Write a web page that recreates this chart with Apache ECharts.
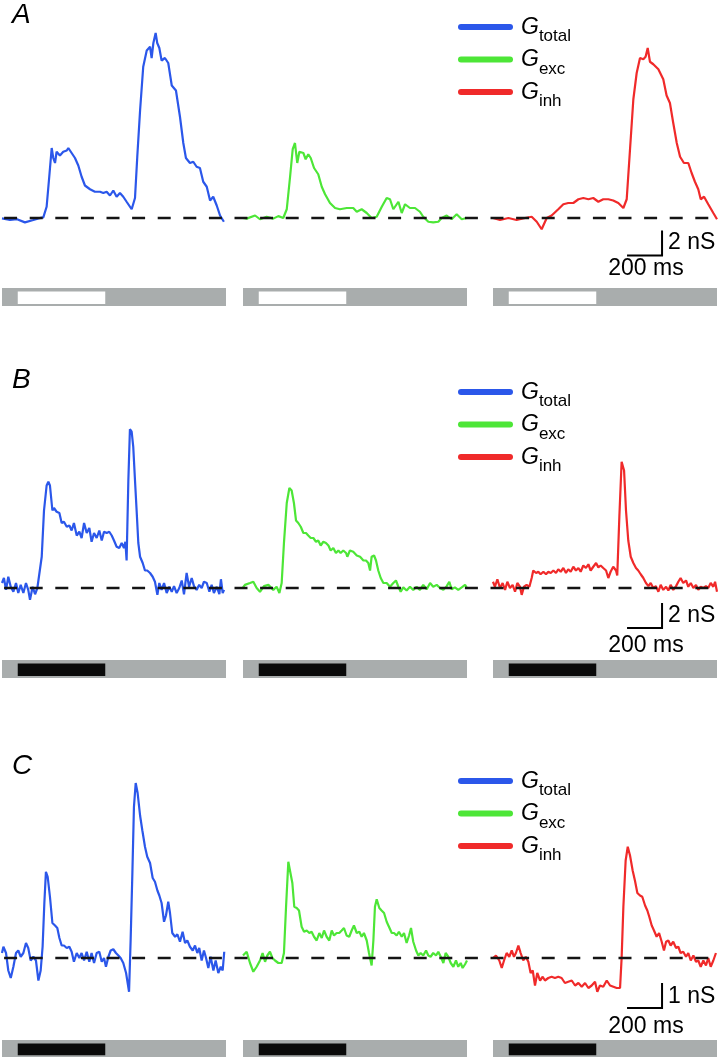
<!DOCTYPE html>
<html>
<head>
<meta charset="utf-8">
<script src="https://cdn.jsdelivr.net/npm/echarts@6/dist/echarts.min.js"></script>
<style>
  html, body { margin: 0; padding: 0; background: #fff; }
  #chart { width: 720px; height: 1058px; }
</style>
</head>
<body>
<div id="chart"></div>
<script>
// time in ms from the start of each sweep, conductance in nS
const sweepMs = 1280;
const stimOn = 90;
const stimOff = 590;
const scaleMs = 200;
const scaleNS = [2, 2, 1];
const names = ['total', 'exc', 'inh'];

const totalA = [[0,-0.03],[46,-0.16],[86,-0.1],[131,-0.35],[179,-0.16],[208,-0.03],[236,0.05],[255,0.9],[270,3.3],[284,5.6],[293,4.8],[303,4.4],[312,5.3],[331,5.0],[350,5.3],[370,5.4],[379,5.6],[398,5.2],[417,4.8],[436,4.2],[455,3.3],[474,2.6],[503,2.3],[531,2.1],[560,2.1],[579,2.0],[598,2.1],[617,1.8],[636,2.2],[655,1.7],[674,2.0],[693,1.7],[712,1.3],[741,0.7],[760,1.6],[773,4.9],[789,8.6],[807,12.1],[827,13.4],[846,13.7],[855,12.8],[865,14.0],[878,14.8],[887,14.0],[899,13.6],[912,12.6],[931,12.8],[950,12.4],[970,10.6],[994,10.2],[1017,8.1],[1036,6.0],[1051,4.8],[1074,4.4],[1093,4.5],[1112,4.1],[1131,4.0],[1150,2.9],[1170,2.5],[1189,1.4],[1207,1.7],[1227,1.0],[1246,0.2],[1268,-0.3]];
const excA = [[0,0],[21,-0.05],[69,0.2],[97,-0.1],[135,0.1],[173,-0.05],[202,0.15],[230,0],[250,0.7],[269,3.3],[284,5.5],[297,6.0],[310,4.4],[322,5.3],[345,5.2],[358,4.7],[373,5.1],[387,4.8],[406,4.0],[430,3.5],[450,2.5],[469,1.9],[497,1.2],[526,0.8],[554,0.7],[593,0.8],[630,0.8],[650,0.5],[678,0.7],[707,0.4],[735,0],[764,0.1],[793,0.9],[821,1.6],[840,1.5],[859,0.7],[888,1.3],[907,0.4],[926,1.1],[954,0.8],[983,0.8],[1011,0.5],[1030,0.1],[1059,-0.3],[1087,-0.35],[1116,-0.3],[1135,0],[1164,0.2],[1192,-0.1],[1221,0.3],[1250,-0.1],[1278,0]];
const inhA = [[0,0],[40,-0.16],[88,0],[135,-0.16],[183,0],[221,0.1],[250,-0.3],[278,-0.9],[307,0],[335,0.2],[373,0.7],[402,1.1],[430,1.2],[459,1.2],[488,1.5],[516,1.6],[545,1.5],[573,1.6],[602,1.3],[630,1.5],[659,1.5],[687,1.4],[716,1.2],[745,0.8],[764,1.5],[783,5.5],[802,9.5],[821,11.6],[840,12.8],[859,12.7],[872,12.9],[884,13.6],[897,12.5],[916,12.3],[945,11.9],[973,11.1],[992,9.8],[1011,9.2],[1030,7.6],[1050,6.0],[1069,4.9],[1091,4.4],[1116,4.4],[1135,3.6],[1154,2.9],[1173,2.3],[1187,1.5],[1206,1.7],[1230,1.1],[1259,0.4],[1280,-0.1]];

const totalB = [[0,0.4],[11,0.8],[23,-0.15],[36,0.9],[50,0.1],[65,-0.3],[80,0.4],[93,-0.4],[107,0.25],[122,-0.4],[137,0.4],[150,-0.15],[160,-0.95],[175,0.1],[189,-0.5],[202,0],[213,0.1],[227,2.5],[240,6.2],[255,8.2],[265,8.5],[274,8.2],[288,6.2],[297,6.4],[312,6.1],[328,6.0],[341,5.2],[354,5.3],[370,4.9],[385,5.0],[398,4.6],[411,5.2],[427,4.2],[442,4.5],[455,4.0],[469,5.2],[484,4.4],[499,4.8],[512,3.7],[526,4.4],[541,4.0],[556,4.6],[570,3.8],[583,4.5],[598,4.4],[613,4.5],[627,4.2],[640,3.8],[655,3.3],[670,3.2],[684,3.6],[697,3.2],[705,3.7],[712,2.2],[722,8.6],[731,12.7],[741,12.5],[750,11.3],[760,8.6],[770,6.0],[779,3.6],[789,2.5],[804,2.0],[817,1.4],[830,1.4],[846,1.2],[861,0.9],[874,0.5],[888,-0.55],[899,0.4],[912,-0.15],[926,0.4],[941,-0.4],[956,0.1],[970,-0.3],[983,0.15],[998,-0.4],[1013,0],[1027,0.6],[1040,-0.5],[1055,1.2],[1069,0.1],[1084,0.8],[1097,0.15],[1112,-0.15],[1127,0.25],[1141,0],[1154,0.5],[1170,0.4],[1185,-0.3],[1198,0.25],[1211,-0.4],[1227,0.1],[1242,-0.5],[1251,0.7],[1261,-0.4],[1269,-0.15]];
const excB = [[0,0.05],[11,0.25],[40,0.4],[59,0.5],[78,0],[97,-0.3],[120,0.15],[145,0.25],[173,-0.15],[192,0.1],[208,-0.4],[221,0.4],[234,3.6],[250,6.8],[265,8.0],[278,7.8],[291,6.8],[303,5.4],[316,5.2],[330,4.9],[345,4.4],[360,4.4],[373,4.2],[387,4.0],[402,4.0],[417,3.7],[430,3.8],[444,3.4],[459,3.7],[474,3.6],[488,3.4],[501,3.0],[516,3.2],[531,2.8],[545,3.0],[558,2.8],[573,3.0],[589,2.8],[596,2.5],[611,3.0],[630,2.9],[650,2.6],[669,2.5],[688,2.2],[703,2.2],[716,2.0],[726,1.4],[735,2.5],[749,2.6],[760,2.2],[773,1.4],[787,0.8],[802,0.4],[821,0.4],[840,0.1],[859,0.4],[874,0.6],[888,0.1],[901,-0.3],[916,0.05],[935,-0.2],[954,0.1],[973,-0.15],[992,0.1],[1011,-0.15],[1030,0.25],[1050,-0.1],[1069,0.4],[1087,0.1],[1107,0.25],[1126,0],[1145,-0.15],[1164,0.15],[1179,0.5],[1192,-0.1],[1211,0.05],[1230,-0.15],[1250,0.05],[1269,0.25],[1280,0]];
const inhB = [[0,0.5],[11,0.1],[25,0.7],[40,0],[55,0.4],[69,-0.15],[82,0.5],[97,0],[112,0.25],[126,-0.3],[139,0.4],[154,0.1],[164,-0.55],[177,0.1],[192,0.25],[208,0.1],[221,0.8],[230,1.4],[246,1.2],[259,1.3],[272,1.1],[288,1.3],[303,1.1],[316,1.3],[330,1.2],[345,1.4],[360,1.2],[373,1.5],[387,1.3],[402,1.6],[417,1.2],[430,1.5],[444,1.3],[459,1.7],[474,1.4],[488,1.6],[501,1.3],[516,1.8],[531,1.6],[545,1.9],[558,1.4],[573,1.7],[589,2.0],[602,1.65],[615,1.8],[630,1.6],[646,1.4],[659,0.8],[672,1.3],[687,1.7],[703,1.4],[710,1.0],[722,5.7],[735,10.1],[749,9.4],[760,6.2],[773,3.8],[787,2.5],[802,2.0],[817,1.6],[830,1.4],[844,1.1],[859,0.8],[874,0.4],[888,0.15],[901,0.4],[916,0],[931,0.15],[945,-0.3],[958,0.25],[973,-0.15],[989,0.1],[1002,-0.2],[1015,0.25],[1030,-0.15],[1046,0.15],[1059,0.5],[1072,0.8],[1087,0.4],[1103,0.6],[1116,0.1],[1130,0.4],[1145,0],[1160,0.25],[1173,-0.15],[1187,0.1],[1202,0],[1217,0.15],[1230,0],[1244,0.4],[1259,0.1],[1269,0.5],[1280,-0.3]];

const totalC = [[0,0.2],[8,0.45],[23,0.2],[36,-0.5],[50,-0.8],[65,-0.35],[80,0.2],[93,0.3],[107,0.05],[122,0.2],[137,0.6],[150,0.4],[164,-0.1],[179,0.05],[194,-0.1],[208,-0.9],[221,-0.5],[232,0.45],[242,2.2],[251,3.45],[261,3.25],[274,2.45],[288,1.4],[303,1.3],[316,1.2],[328,0.8],[341,0.5],[354,0.5],[370,0.4],[385,0.45],[398,0.25],[411,-0.15],[427,0.2],[442,0],[455,0.2],[469,-0.1],[484,0.25],[499,-0.15],[512,0.2],[526,-0.2],[541,0.2],[556,0.25],[570,-0.15],[583,0],[594,-0.35],[608,0.05],[621,0.3],[636,0.35],[651,0.2],[665,0.1],[678,0],[693,-0.2],[709,-0.6],[726,-1.35],[735,0.7],[745,3.4],[754,6.05],[764,7.0],[775,6.6],[789,5.7],[802,5.1],[817,4.45],[830,4.05],[846,3.8],[861,3.2],[874,3.05],[888,2.7],[899,2.5],[912,2.2],[926,1.45],[937,1.7],[950,2.25],[960,1.8],[973,1.0],[989,0.85],[1002,0.95],[1017,0.65],[1032,1.05],[1046,0.6],[1059,0.7],[1074,0.45],[1090,0.3],[1103,0.5],[1116,0.2],[1127,0.4],[1141,-0.1],[1154,0.3],[1166,0],[1179,-0.4],[1192,0.05],[1208,-0.5],[1221,-0.1],[1236,-0.6],[1250,-0.35],[1261,-0.5],[1270,0.25]];
const excC = [[0,0.1],[21,0.25],[40,-0.2],[59,-0.55],[78,-0.35],[97,-0.1],[112,0.2],[126,-0.15],[139,0.1],[154,0.25],[168,0],[183,-0.1],[202,-0.2],[221,-0.2],[234,0.2],[246,2.05],[259,3.85],[269,3.8],[282,3.0],[293,2.05],[307,2.0],[320,1.9],[335,1.25],[349,1.05],[364,1.1],[379,1.0],[392,1.05],[406,0.85],[421,0.7],[436,1.0],[450,0.8],[463,1.1],[478,0.85],[493,0.7],[507,1.1],[520,0.9],[535,1.0],[550,1.0],[564,1.1],[577,1.2],[592,0.9],[607,0.85],[621,1.1],[634,1.3],[650,1.0],[665,1.05],[678,0.85],[691,1.0],[707,0.7],[720,0.2],[735,-0.3],[745,0.7],[754,2.05],[764,2.35],[779,2.0],[792,1.9],[806,1.8],[821,1.45],[834,1.25],[850,1.0],[863,1.0],[878,0.9],[891,1.05],[907,0.85],[920,1.0],[935,0.6],[949,0.9],[960,1.2],[973,0.65],[989,0.3],[1002,0.1],[1015,0.2],[1030,0.1],[1046,0.3],[1059,0.1],[1072,0.05],[1087,0.2],[1103,0.1],[1116,0.25],[1130,0.05],[1145,-0.2],[1158,0.2],[1173,0.05],[1187,-0.2],[1202,-0.35],[1217,-0.1],[1230,-0.35],[1244,-0.2],[1255,-0.4],[1269,-0.25],[1280,-0.1]];
const inhC = [[0,0],[17,0.1],[36,-0.1],[50,-0.4],[63,-0.1],[78,0.2],[93,0.05],[107,0.3],[120,0.05],[131,0.2],[145,0.5],[158,0.2],[173,-0.1],[187,0.05],[202,-0.15],[215,-0.6],[227,-0.5],[240,-1.1],[253,-0.6],[269,-0.9],[284,-0.75],[297,-0.9],[316,-0.8],[335,-0.75],[354,-0.8],[373,-0.75],[392,-0.8],[411,-1.0],[430,-0.95],[450,-0.9],[469,-1.1],[488,-1.0],[507,-1.15],[526,-1.0],[545,-1.2],[564,-1.1],[583,-0.95],[596,-1.35],[611,-1.1],[630,-1.15],[650,-0.9],[669,-1.1],[688,-1.15],[707,-1.2],[726,-1.2],[735,0],[745,2.05],[758,3.9],[770,4.45],[783,4.1],[798,3.5],[811,3.1],[825,2.6],[840,2.5],[853,2.45],[869,2.1],[882,1.9],[893,1.65],[907,1.3],[920,1.1],[935,0.85],[949,1.0],[964,0.65],[977,0.3],[989,0.65],[1002,0.7],[1015,0.5],[1030,0.65],[1046,0.4],[1059,0.45],[1072,0.2],[1087,0.25],[1103,0.05],[1116,0.2],[1130,-0.1],[1145,0.1],[1160,-0.15],[1173,-0.1],[1187,-0.35],[1202,-0.1],[1217,-0.3],[1230,0],[1244,-0.35],[1259,-0.1],[1274,0.2]];

// layout
const FONT = '"Liberation Sans", Arial, Helvetica, sans-serif';
const colors = ['#2b57ea', '#4de637', '#f02a2a'];
const panelLeft = [2, 243, 493];
const panelW = 224;
const rows = [
  { label: 'A', labelTop: 1, traces: [totalA, excA, inhA], base: 218, ppn: 12.5, yMin: -4, yMax: 16,
    stimTop: 288, stimH: 18, stimFill: '#ffffff', barT: 966, barY: -3, nsY: 243, msY: 269, legendTop: 8 },
  { label: 'B', labelTop: 366, traces: [totalB, excB, inhB], base: 588, ppn: 12.5, yMin: -4, yMax: 16,
    stimTop: 660, stimH: 18, stimFill: '#0a0a0a', barT: 966, barY: -3.2, nsY: 616, msY: 646, legendTop: 373 },
  { label: 'C', labelTop: 752, traces: [totalC, excC, inhC], base: 958, ppn: 25, yMin: -2, yMax: 8,
    stimTop: 1040, stimH: 17, stimFill: '#0a0a0a', barT: 966, barY: -2, nsY: 997, msY: 1027, legendTop: 762 }
];

const grid = [], xAxis = [], yAxis = [], series = [], title = [], legend = [], graphic = [];

function addGrid(g, xr, yr) {
  grid.push(Object.assign({ show: false, containLabel: false }, g));
  const i = grid.length - 1;
  xAxis.push({ type: 'value', gridIndex: i, min: xr[0], max: xr[1], show: false });
  yAxis.push({ type: 'value', gridIndex: i, min: yr[0], max: yr[1], show: false });
  return i;
}

const capsule = 'path://M3,0L52,0A3,3,0,0,1,52,6L3,6A3,3,0,0,1,3,0Z';

rows.forEach((r, ri) => {
  const top = r.base - r.yMax * r.ppn;
  const height = (r.yMax - r.yMin) * r.ppn;

  r.traces.forEach((trace, c) => {
    const g = addGrid({ left: panelLeft[c], top, width: panelW, height }, [0, sweepMs], [r.yMin, r.yMax]);
    series.push({
      type: 'line', name: names[c], xAxisIndex: g, yAxisIndex: g, data: trace,
      showSymbol: false, symbol: 'none', silent: true, z: 3, clip: false,
      lineStyle: { width: 2.2, color: colors[c] }, itemStyle: { color: colors[c] }
    });

    // stimulus bar underneath
    const s = addGrid({ left: panelLeft[c], top: r.stimTop, width: panelW, height: r.stimH }, [0, sweepMs], [0, 1]);
    series.push({
      type: 'custom', xAxisIndex: s, yAxisIndex: s, silent: true, clip: false,
      data: [[0, sweepMs], [stimOn, stimOff]],
      renderItem: (params, api) => {
        const inner = params.dataIndex === 1;
        const a = api.coord([api.value(0), inner ? 0.8 : 1]);
        const b = api.coord([api.value(1), inner ? 0.11 : 0]);
        return {
          type: 'rect',
          shape: { x: a[0], y: a[1], width: b[0] - a[0], height: b[1] - a[1] },
          style: { fill: inner ? r.stimFill : '#a9adad' }
        };
      }
    });

    if (c === 2) {
      // scale bar: 200 ms x scaleNS[ri] nS
      series.push({
        type: 'line', xAxisIndex: g, yAxisIndex: g, silent: true, showSymbol: false, symbol: 'none', clip: false,
        data: [[r.barT - scaleMs, r.barY], [r.barT, r.barY], [r.barT, r.barY + scaleNS[ri]]],
        lineStyle: { width: 2, color: '#000', cap: 'butt', join: 'miter' }, z: 4
      });
    }
  });

  // dashed zero line across the whole row
  const d = addGrid({ left: 0, top, width: 720, height }, [0, 1], [r.yMin, r.yMax]);
  series.push({
    type: 'line', xAxisIndex: d, yAxisIndex: d, silent: true, showSymbol: false, symbol: 'none',
    data: [[0, 0], [1, 0]], z: 5,
    lineStyle: { width: 2.5, color: '#141414', type: [13, 12.6], dashOffset: 21.5 }
  });

  title.push({
    text: r.label, left: 12, top: r.labelTop, padding: 0,
    textStyle: { fontSize: 28, fontStyle: 'italic', fontWeight: 'normal', color: '#000', fontFamily: FONT }
  });

  legend.push({
    orient: 'vertical', left: 458, top: r.legendTop, padding: 0,
    itemWidth: 55, itemHeight: 6, itemGap: -5.5, icon: capsule, selectedMode: false,
    data: names,
    formatter: n => '{g|G}{s|' + n + '}',
    textStyle: {
      color: '#000', fontFamily: FONT,
      rich: {
        g: { fontSize: 23, lineHeight: 23, fontStyle: 'italic', fontFamily: FONT, color: '#000', padding: [8, 0, 7, 3] },
        s: { fontSize: 17, lineHeight: 17, fontFamily: FONT, color: '#000', padding: [20, 0, 1, 0] }
      }
    }
  });

  graphic.push(
    { type: 'text', x: 668, y: r.nsY, silent: true,
      style: { text: scaleNS[ri] + ' nS', fill: '#000', font: '23px ' + FONT, verticalAlign: 'middle', align: 'left' } },
    { type: 'text', x: 646, y: r.msY, silent: true,
      style: { text: scaleMs + ' ms', fill: '#000', font: '23px ' + FONT, verticalAlign: 'middle', align: 'center' } }
  );
});

const chart = echarts.init(document.getElementById('chart'), null, { renderer: 'canvas' });
chart.setOption({
  backgroundColor: '#ffffff',
  animation: false,
  title, legend, grid, xAxis, yAxis, series, graphic
});
</script>
</body>
</html>
